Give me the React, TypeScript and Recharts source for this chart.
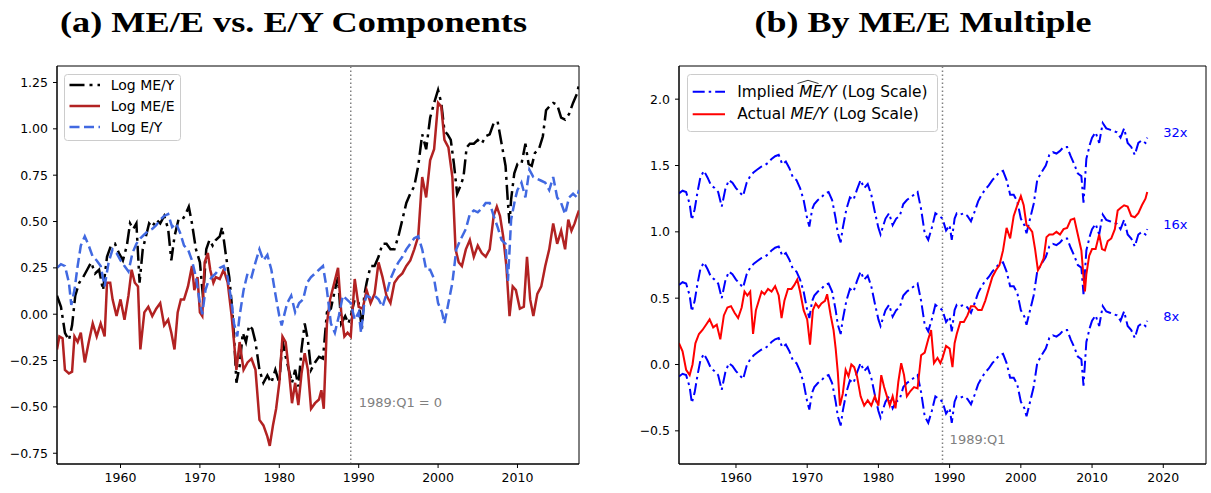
import { LineChart, Line, XAxis, YAxis, ReferenceLine, ReferenceArea, ReferenceDot } from 'recharts';

// Panel (a): quarterly-ish readings, normalised so 1989:Q1 = 0
const eyYears = [
  1952, 1952.5, 1953, 1953.5, 1953.8, 1954.2, 1954.6, 1955, 1955.5, 1956,
  1956.5, 1957, 1957.5, 1958, 1958.5, 1959, 1959.5, 1960, 1960.5, 1961,
  1961.5, 1962, 1962.5, 1963, 1963.5, 1964, 1964.5, 1965, 1965.5, 1966,
  1966.5, 1967, 1967.5, 1968, 1968.5, 1969, 1969.5, 1970, 1970.3, 1970.7,
  1971, 1971.5, 1972, 1972.5, 1973, 1973.5, 1974, 1974.3, 1974.7, 1975,
  1975.5, 1976, 1976.5, 1977, 1977.5, 1978, 1978.5, 1979, 1979.5, 1980,
  1980.3, 1980.7, 1981, 1981.5, 1982, 1982.5, 1983, 1983.5, 1984, 1984.5,
  1985, 1985.5, 1986, 1986.5, 1987, 1987.5, 1988, 1988.5, 1989, 1989.5,
  1990, 1990.3, 1990.7, 1991, 1991.5, 1992, 1992.5, 1993, 1993.5, 1994,
  1994.5, 1995, 1995.5, 1996, 1996.5, 1997, 1997.5, 1998, 1998.5, 1999,
  1999.5, 2000, 2000.5, 2000.8, 2001.3, 2001.8, 2002.3, 2002.8, 2003.5, 2004,
  2004.5, 2005, 2005.5, 2006, 2006.5, 2007, 2007.5, 2008, 2008.5, 2008.8,
  2009.2, 2009.7, 2010, 2010.5, 2011, 2011.5, 2012, 2012.5, 2013, 2013.5,
  2014, 2014.5, 2015, 2015.5, 2016, 2016.5, 2017, 2017.5, 2017.75,
];

const logEY = [
  0.25, 0.27, 0.26, 0.17, 0.05, 0.13, 0.26, 0.37, 0.42, 0.37,
  0.31, 0.29, 0.26, 0.15, 0.28, 0.35, 0.33, 0.29, 0.26, 0.23,
  0.33, 0.38, 0.41, 0.43, 0.45, 0.46, 0.48, 0.51, 0.53, 0.54,
  0.47, 0.49, 0.44, 0.37, 0.35, 0.29, 0.2, 0.06, 0.0, 0.13,
  0.17, 0.2, 0.22, 0.25, 0.26, 0.2, 0.06, -0.05, -0.12, -0.01,
  0.13, 0.22, 0.2, 0.28, 0.35, 0.29, 0.32, 0.24, 0.11, -0.01,
  -0.06, 0.01, 0.06, 0.1, 0.01, 0.06, 0.08, 0.17, 0.2, 0.22,
  0.24, 0.26, 0.13, -0.05, -0.1, -0.01, 0.1, 0.08, 0.06, -0.03,
  0.01, -0.1, 0.06, 0.1, 0.09, 0.1, 0.08, 0.04, 0.11, 0.19,
  0.24, 0.28, 0.31, 0.35, 0.38, 0.41, 0.42, 0.35, 0.24, 0.24,
  0.19, 0.06, 0.01, -0.05, 0.06, 0.17, 0.35, 0.4, 0.46, 0.54,
  0.56, 0.55, 0.57, 0.6, 0.6, 0.53, 0.47, 0.4, 0.38, 0.18,
  0.51, 0.62, 0.67, 0.71, 0.63, 0.78, 0.74, 0.73, 0.72, 0.71,
  0.67, 0.74, 0.63, 0.6, 0.54, 0.63, 0.65, 0.63, 0.67,
];

const meeYears = [
  1952, 1952.3, 1952.7, 1953, 1953.5, 1953.9, 1954.2, 1954.6, 1955, 1955.5,
  1956, 1956.5, 1957, 1957.5, 1958, 1958.3, 1958.7, 1959, 1959.5, 1960,
  1960.5, 1961, 1961.4, 1961.8, 1962.2, 1962.5, 1963, 1963.5, 1964, 1964.5,
  1965, 1965.5, 1966, 1966.4, 1966.8, 1967.2, 1967.6, 1968, 1968.5, 1969,
  1969.3, 1969.7, 1970, 1970.3, 1970.6, 1971, 1971.3, 1971.7, 1972, 1972.5,
  1973, 1973.5, 1974, 1974.3, 1974.6, 1975, 1975.5, 1976, 1976.5, 1977,
  1977.5, 1978, 1978.5, 1978.8, 1979.2, 1979.6, 1980, 1980.4, 1980.8, 1981.2,
  1981.6, 1982, 1982.4, 1982.8, 1983.2, 1983.6, 1984, 1984.5, 1985, 1985.3,
  1985.6, 1986, 1986.4, 1987.4, 1987.8, 1988.2, 1988.6, 1989, 1989.5, 1990,
  1990.5, 1991, 1991.5, 1992, 1992.5, 1993, 1993.5, 1994, 1994.5, 1995,
  1995.5, 1996, 1996.5, 1997, 1997.5, 1998, 1998.5, 1999, 1999.5, 2000,
  2000.4, 2000.8, 2001.3, 2001.8, 2002.2, 2002.6, 2003, 2003.5, 2004, 2004.5,
  2005, 2005.5, 2006, 2006.5, 2007, 2007.4, 2007.8, 2008.2, 2008.6, 2009,
  2009.4, 2009.8, 2010.3, 2010.8, 2011.2, 2011.6, 2012, 2012.5, 2013, 2013.5,
  2014, 2014.5, 2015, 2015.5, 2016, 2016.4, 2016.8, 2017.2, 2017.5, 2017.75,
];

const logMEE = [
  -0.19, -0.12, -0.13, -0.3, -0.32, -0.31, -0.12, -0.15, -0.1, -0.26,
  -0.15, -0.05, -0.12, -0.05, -0.12, 0.17, 0.17, 0.08, -0.01, 0.08,
  -0.03, 0.1, 0.24, 0.17, 0.15, -0.19, 0.01, 0.04, -0.01, 0.03,
  0.06, -0.06, -0.03, -0.1, -0.19, 0.01, 0.08, 0.08, 0.15, 0.26,
  0.13, 0.2, 0.01, -0.01, 0.28, 0.33, 0.24, 0.17, 0.2, 0.19,
  0.24, 0.17, -0.01, -0.15, -0.3, -0.15, -0.3, -0.26, -0.24, -0.3,
  -0.57, -0.6, -0.66, -0.71, -0.6, -0.51, -0.37, -0.12, -0.15, -0.3,
  -0.48, -0.37, -0.49, -0.32, -0.21, -0.3, -0.51, -0.48, -0.46, -0.41,
  -0.51, -0.05, 0.08, 0.25, 0.01, -0.12, -0.1, -0.12, 0.19, 0.04,
  0.03, 0.13, 0.06, 0.11, 0.28, 0.2, 0.1, 0.06, 0.17, 0.2,
  0.22, 0.26, 0.29, 0.35, 0.42, 0.74, 0.63, 0.83, 0.89, 1.14,
  1.12, 0.94, 0.9, 0.74, 0.35, 0.28, 0.26, 0.35, 0.4, 0.31,
  0.37, 0.33, 0.31, 0.35, 0.53, 0.58, 0.53, 0.42, 0.26, -0.01,
  0.15, 0.13, 0.03, 0.04, 0.31, 0.08, -0.01, 0.11, 0.15, 0.26,
  0.35, 0.49, 0.38, 0.45, 0.35, 0.51, 0.45, 0.49, 0.53, 0.56,
];

const meyYears = [
  1952, 1952.5, 1953, 1953.5, 1953.9, 1954.3, 1954.8, 1955.3, 1955.8, 1956.3,
  1956.8, 1957.3, 1957.8, 1958.3, 1958.8, 1959.3, 1959.8, 1960.3, 1960.8, 1961.2,
  1961.6, 1962, 1962.4, 1962.8, 1963.2, 1963.6, 1964, 1964.5, 1965, 1965.5,
  1966, 1966.4, 1966.8, 1967.3, 1967.8, 1968.2, 1968.6, 1969, 1969.5, 1970,
  1970.4, 1970.8, 1971.2, 1971.6, 1972, 1972.5, 1972.8, 1973.3, 1973.7, 1974,
  1974.3, 1974.6, 1975, 1975.4, 1975.8, 1976.2, 1976.6, 1977, 1977.5, 1978,
  1978.5, 1979, 1979.5, 1980, 1980.4, 1980.8, 1981.2, 1981.6, 1982, 1982.4,
  1982.8, 1983.2, 1983.6, 1984, 1984.5, 1985, 1985.5, 1986, 1986.5, 1987,
  1987.4, 1987.8, 1988.3, 1988.7, 1989, 1989.5, 1990, 1990.4, 1990.7, 1991,
  1991.5, 1992, 1992.5, 1993, 1993.5, 1994, 1994.5, 1995, 1995.5, 1996,
  1996.5, 1997, 1997.5, 1998, 1998.5, 1999, 1999.5, 2000, 2000.4, 2000.8,
  2001.2, 2001.6, 2002, 2002.4, 2002.8, 2003.2, 2003.6, 2004, 2004.5, 2005,
  2005.5, 2006, 2006.5, 2007, 2007.5, 2008, 2008.5, 2008.8, 2009, 2009.2,
  2009.6, 2010, 2010.5, 2011, 2011.4, 2011.8, 2012.2, 2012.7, 2013.2, 2013.6,
  2014, 2014.5, 2015, 2015.5, 2016, 2016.5, 2017, 2017.5, 2017.75,
];

const logMEY = [
  0.1, 0.04, -0.1, -0.14, -0.06, 0.1, 0.17, 0.2, 0.24, 0.28,
  0.22, 0.24, 0.13, 0.31, 0.37, 0.38, 0.33, 0.29, 0.37, 0.49,
  0.46, 0.49, 0.17, 0.35, 0.42, 0.49, 0.47, 0.51, 0.49, 0.53,
  0.46, 0.29, 0.42, 0.51, 0.51, 0.54, 0.58, 0.49, 0.35, 0.28,
  0.09, 0.35, 0.4, 0.37, 0.4, 0.42, 0.47, 0.31, 0.2, 0.06,
  -0.12, -0.37, -0.28, -0.1, -0.15, -0.06, -0.08, -0.15, -0.3, -0.37,
  -0.33, -0.37, -0.3, -0.37, -0.14, -0.23, -0.3, -0.37, -0.3, -0.39,
  -0.19, -0.05, -0.14, -0.3, -0.26, -0.23, -0.24, 0.01, 0.03, 0.13,
  0.2, -0.05, -0.01, -0.05, -0.01, 0.08, 0.06, -0.08, 0.1, 0.17,
  0.26, 0.26, 0.31, 0.38, 0.38, 0.35, 0.35, 0.42, 0.51, 0.6,
  0.65, 0.69, 0.8, 0.97, 0.89, 1.06, 1.14, 1.21, 1.14, 0.99,
  0.97, 0.94, 0.81, 0.65, 0.69, 0.74, 0.9, 0.92, 0.92, 0.94,
  0.92, 0.96, 0.97, 1.03, 1.04, 0.92, 0.8, 0.6, 0.49, 0.62,
  0.76, 0.81, 0.81, 0.92, 0.81, 0.8, 0.87, 0.89, 0.96, 1.1,
  1.12, 1.14, 1.13, 1.06, 1.05, 1.08, 1.14, 1.19, 1.24,
];

// Panel (b): implied ME/Y at fixed multiples (same dates as eyYears)
const implied32 = [
  1.29, 1.31, 1.3, 1.21, 1.09, 1.17, 1.3, 1.41, 1.46, 1.41,
  1.35, 1.33, 1.3, 1.19, 1.32, 1.39, 1.37, 1.33, 1.3, 1.27,
  1.37, 1.42, 1.45, 1.47, 1.49, 1.5, 1.52, 1.55, 1.57, 1.58,
  1.51, 1.53, 1.48, 1.41, 1.39, 1.33, 1.24, 1.1, 1.04, 1.17,
  1.21, 1.24, 1.26, 1.29, 1.3, 1.24, 1.1, 0.99, 0.92, 1.03,
  1.17, 1.26, 1.24, 1.32, 1.39, 1.33, 1.36, 1.28, 1.15, 1.03,
  0.98, 1.05, 1.1, 1.14, 1.05, 1.1, 1.12, 1.21, 1.24, 1.26,
  1.28, 1.3, 1.17, 0.99, 0.94, 1.03, 1.14, 1.12, 1.1, 1.01,
  1.05, 0.94, 1.1, 1.14, 1.13, 1.14, 1.12, 1.08, 1.15, 1.23,
  1.28, 1.32, 1.35, 1.39, 1.42, 1.45, 1.46, 1.39, 1.28, 1.28,
  1.23, 1.1, 1.05, 0.99, 1.1, 1.21, 1.39, 1.44, 1.5, 1.58,
  1.6, 1.59, 1.61, 1.64, 1.64, 1.57, 1.51, 1.44, 1.42, 1.22,
  1.55, 1.66, 1.71, 1.75, 1.67, 1.82, 1.78, 1.77, 1.76, 1.75,
  1.71, 1.78, 1.67, 1.64, 1.58, 1.67, 1.69, 1.67, 1.71,
];

const implied16 = [
  0.6, 0.62, 0.61, 0.52, 0.4, 0.48, 0.61, 0.72, 0.77, 0.72,
  0.66, 0.64, 0.61, 0.5, 0.63, 0.7, 0.68, 0.64, 0.61, 0.58,
  0.68, 0.73, 0.76, 0.78, 0.8, 0.81, 0.83, 0.86, 0.88, 0.89,
  0.82, 0.84, 0.79, 0.72, 0.7, 0.64, 0.55, 0.41, 0.35, 0.48,
  0.52, 0.55, 0.57, 0.6, 0.61, 0.55, 0.41, 0.3, 0.23, 0.34,
  0.48, 0.57, 0.55, 0.63, 0.7, 0.64, 0.67, 0.59, 0.46, 0.34,
  0.29, 0.36, 0.41, 0.45, 0.36, 0.41, 0.43, 0.52, 0.55, 0.57,
  0.59, 0.61, 0.48, 0.3, 0.25, 0.34, 0.45, 0.43, 0.41, 0.32,
  0.36, 0.25, 0.41, 0.45, 0.44, 0.45, 0.43, 0.39, 0.46, 0.54,
  0.59, 0.63, 0.66, 0.7, 0.73, 0.76, 0.77, 0.7, 0.59, 0.59,
  0.54, 0.41, 0.36, 0.3, 0.41, 0.52, 0.7, 0.75, 0.81, 0.89,
  0.91, 0.9, 0.92, 0.95, 0.95, 0.88, 0.82, 0.75, 0.73, 0.53,
  0.86, 0.97, 1.02, 1.06, 0.98, 1.13, 1.09, 1.08, 1.07, 1.06,
  1.02, 1.09, 0.98, 0.95, 0.89, 0.98, 1.0, 0.98, 1.02,
];

const implied8 = [
  -0.09, -0.07, -0.08, -0.17, -0.29, -0.21, -0.08, 0.03, 0.08, 0.03,
  -0.03, -0.05, -0.08, -0.19, -0.06, 0.01, -0.01, -0.05, -0.08, -0.11,
  -0.01, 0.04, 0.07, 0.09, 0.11, 0.12, 0.14, 0.17, 0.19, 0.2,
  0.13, 0.15, 0.1, 0.03, 0.01, -0.05, -0.14, -0.28, -0.34, -0.21,
  -0.17, -0.14, -0.12, -0.09, -0.08, -0.14, -0.28, -0.39, -0.46, -0.35,
  -0.21, -0.12, -0.14, -0.06, 0.01, -0.05, -0.02, -0.1, -0.23, -0.35,
  -0.4, -0.33, -0.28, -0.24, -0.33, -0.28, -0.26, -0.17, -0.14, -0.12,
  -0.1, -0.08, -0.21, -0.39, -0.44, -0.35, -0.24, -0.26, -0.28, -0.37,
  -0.33, -0.44, -0.28, -0.24, -0.25, -0.24, -0.26, -0.3, -0.23, -0.15,
  -0.1, -0.06, -0.03, 0.01, 0.04, 0.07, 0.08, 0.01, -0.1, -0.1,
  -0.15, -0.28, -0.33, -0.39, -0.28, -0.17, 0.01, 0.06, 0.12, 0.2,
  0.22, 0.21, 0.23, 0.26, 0.26, 0.19, 0.13, 0.06, 0.04, -0.16,
  0.17, 0.28, 0.33, 0.37, 0.29, 0.44, 0.4, 0.39, 0.38, 0.37,
  0.33, 0.4, 0.29, 0.26, 0.2, 0.29, 0.31, 0.29, 0.33,
];

// Actual ME/Y on the panel (b) scale (same dates as meyYears)
const actualMEY = [
  0.16, 0.1, -0.04, -0.08, 0.0, 0.16, 0.23, 0.26, 0.3, 0.34,
  0.28, 0.3, 0.19, 0.37, 0.43, 0.44, 0.39, 0.35, 0.43, 0.55,
  0.52, 0.55, 0.23, 0.41, 0.48, 0.55, 0.53, 0.57, 0.55, 0.59,
  0.52, 0.35, 0.48, 0.57, 0.57, 0.6, 0.64, 0.55, 0.41, 0.34,
  0.15, 0.41, 0.46, 0.43, 0.46, 0.48, 0.53, 0.37, 0.26, 0.12,
  -0.06, -0.31, -0.22, -0.04, -0.09, 0.0, -0.02, -0.09, -0.24, -0.31,
  -0.27, -0.31, -0.24, -0.31, -0.08, -0.17, -0.24, -0.31, -0.24, -0.33,
  -0.13, 0.01, -0.08, -0.24, -0.2, -0.17, -0.18, 0.07, 0.09, 0.19,
  0.26, 0.01, 0.05, 0.01, 0.05, 0.14, 0.12, -0.02, 0.16, 0.23,
  0.32, 0.32, 0.37, 0.44, 0.44, 0.41, 0.41, 0.48, 0.57, 0.66,
  0.71, 0.75, 0.86, 1.03, 0.95, 1.12, 1.2, 1.27, 1.2, 1.05,
  1.03, 1.0, 0.87, 0.71, 0.75, 0.8, 0.96, 0.98, 0.98, 1.0,
  0.98, 1.02, 1.03, 1.09, 1.1, 0.98, 0.86, 0.66, 0.55, 0.68,
  0.82, 0.87, 0.87, 0.98, 0.87, 0.86, 0.93, 0.95, 1.02, 1.16,
  1.18, 1.2, 1.19, 1.12, 1.11, 1.14, 1.2, 1.25, 1.3,
];

const leftYTicks = [-0.75, -0.5, -0.25, 0, 0.25, 0.5, 0.75, 1.0, 1.25];
const leftXTicks = [1960, 1970, 1980, 1990, 2000, 2010];
const rightYTicks = [-0.5, 0, 0.5, 1.0, 1.5, 2.0];
const rightXTicks = [1960, 1970, 1980, 1990, 2000, 2010, 2020];

const multipleLabels = [
  { text: '32x', y: 1.749 },
  { text: '16x', y: 1.057 },
  { text: '8x', y: 0.365 },
];

const toPoints = (xs: number[], ys: number[]) =>
  xs.slice(0, ys.length).map((x, i) => ({ x, y: ys[i] }));

const FONT = '"DejaVu Sans", sans-serif';
const DASHDOT_A = '15 5 3 5';
const DASHDOT_B = '12 4 2.5 4';

const fmt = (digits: number) => (v: number) =>
  v < 0 ? '\u2212' + Math.abs(v).toFixed(digits) : v.toFixed(digits);

const tickStyle = { fill: '#000', fontSize: 12.5, fontFamily: FONT };

function LeftPanel() {
  const xDomain: [number, number] = [1952, 2017.75];
  const yDomain: [number, number] = [-0.808, 1.339];
  return (
    <LineChart width={600} height={493} margin={{ top: 66, right: 21, bottom: 0, left: 0 }}>
      <XAxis
        type="number"
        dataKey="x"
        domain={xDomain}
        ticks={leftXTicks}
        allowDataOverflow
        height={29}
        tick={tickStyle}
        tickSize={4}
        tickMargin={5}
        stroke="#000"
      />
      <YAxis
        type="number"
        dataKey="y"
        domain={yDomain}
        ticks={leftYTicks}
        allowDataOverflow
        width={57}
        tick={tickStyle}
        tickSize={4}
        tickMargin={5}
        tickFormatter={fmt(2)}
        stroke="#000"
      />
      <ReferenceArea x1={xDomain[0]} x2={xDomain[1]} y1={yDomain[0]} y2={yDomain[1]} fill="none" stroke="#000" strokeWidth={1} />
      <ReferenceLine x={1989} stroke="#808080" strokeWidth={1.5} strokeDasharray="1.5 2.5" />
      <Line data={toPoints(meyYears, logMEY)} dataKey="y" stroke="#000" strokeWidth={2.5} strokeDasharray={DASHDOT_A} dot={false} isAnimationActive={false} />
      <Line data={toPoints(meeYears, logMEE)} dataKey="y" stroke="#b22222" strokeWidth={2.5} dot={false} isAnimationActive={false} />
      <Line data={toPoints(eyYears, logEY)} dataKey="y" stroke="#4169e1" strokeWidth={2.5} strokeDasharray="10 4.5" dot={false} isAnimationActive={false} />
      <ReferenceDot
        x={1990}
        y={-0.476}
        r={1}
        fill="none"
        stroke="none"
        label={{ value: '1989:Q1 = 0', position: 'right', offset: -1, fill: '#808080', fontSize: 13, fontFamily: FONT }}
      />
    </LineChart>
  );
}

function RightPanel() {
  const xDomain: [number, number] = [1952, 2026];
  const yDomain: [number, number] = [-0.75, 2.25];
  return (
    <LineChart width={611} height={493} margin={{ top: 66, right: 5, bottom: 0, left: 0 }}>
      <XAxis
        type="number"
        dataKey="x"
        domain={xDomain}
        ticks={rightXTicks}
        allowDataOverflow
        height={29}
        tick={tickStyle}
        tickSize={4}
        tickMargin={5}
        stroke="#000"
      />
      <YAxis
        type="number"
        dataKey="y"
        domain={yDomain}
        ticks={rightYTicks}
        allowDataOverflow
        width={79}
        tick={tickStyle}
        tickSize={4}
        tickMargin={5}
        tickFormatter={fmt(1)}
        stroke="#000"
      />
      <ReferenceArea x1={xDomain[0]} x2={xDomain[1]} y1={yDomain[0]} y2={yDomain[1]} fill="none" stroke="#000" strokeWidth={1} />
      <ReferenceLine x={1989} stroke="#808080" strokeWidth={1.5} strokeDasharray="1.5 2.5" />
      <Line data={toPoints(eyYears, implied32)} dataKey="y" stroke="#0000ff" strokeWidth={2} strokeDasharray={DASHDOT_B} dot={false} isAnimationActive={false} />
      <Line data={toPoints(eyYears, implied16)} dataKey="y" stroke="#0000ff" strokeWidth={2} strokeDasharray={DASHDOT_B} dot={false} isAnimationActive={false} />
      <Line data={toPoints(eyYears, implied8)} dataKey="y" stroke="#0000ff" strokeWidth={2} strokeDasharray={DASHDOT_B} dot={false} isAnimationActive={false} />
      <Line data={toPoints(meyYears, actualMEY)} dataKey="y" stroke="#ff0000" strokeWidth={2} dot={false} isAnimationActive={false} />
      {multipleLabels.map((m) => (
        <ReferenceDot
          key={m.text}
          x={2020}
          y={m.y}
          r={1}
          fill="none"
          stroke="none"
          label={{ value: m.text, position: 'right', offset: -1, fill: '#0000ff', fontSize: 13, fontFamily: FONT }}
        />
      ))}
      <ReferenceDot
        x={1990}
        y={-0.567}
        r={1}
        fill="none"
        stroke="none"
        label={{ value: '1989:Q1', position: 'right', offset: -1, fill: '#808080', fontSize: 13, fontFamily: FONT }}
      />
    </LineChart>
  );
}

// titles and legends drawn on top
function Overlay() {
  const titleFont = '"Liberation Serif", serif';
  return (
    <svg width={1211} height={493} style={{ position: 'absolute', left: 0, top: 0, pointerEvents: 'none' }}>
      <text x={293.5} y={31.5} textAnchor="middle" fontFamily={titleFont} fontWeight="bold" fontSize={28.5} textLength={467} lengthAdjust="spacingAndGlyphs">
        (a) ME/E vs. E/Y Components
      </text>
      <text x={923} y={31.5} textAnchor="middle" fontFamily={titleFont} fontWeight="bold" fontSize={28.5} textLength={337} lengthAdjust="spacingAndGlyphs">
        (b) By ME/E Multiple
      </text>

      {/* panel (a) legend */}
      <rect x={64.5} y={74.5} width={116} height={66} rx={3} fill="#fff" fillOpacity={0.8} stroke="#cccccc" />
      <line x1={69.5} x2={100} y1={85} y2={85} stroke="#000" strokeWidth={2.5} strokeDasharray={DASHDOT_A} />
      <line x1={69.5} x2={100} y1={106} y2={106} stroke="#b22222" strokeWidth={2.5} />
      <line x1={69.5} x2={100} y1={127} y2={127} stroke="#4169e1" strokeWidth={2.5} strokeDasharray="10 4.5" />
      <g fontFamily={FONT} fontSize={14} fill="#000">
        <text x={110.7} y={85} dominantBaseline="central">Log ME/Y</text>
        <text x={110.7} y={106} dominantBaseline="central">Log ME/E</text>
        <text x={110.7} y={127} dominantBaseline="central">Log E/Y</text>
      </g>

      {/* panel (b) legend */}
      <rect x={687.5} y={74.5} width={250} height={57} rx={3} fill="#fff" fillOpacity={0.8} stroke="#cccccc" />
      <line x1={692.7} x2={725} y1={91.7} y2={91.7} stroke="#0000ff" strokeWidth={2} strokeDasharray={DASHDOT_B} />
      <line x1={692.7} x2={725} y1={114.3} y2={114.3} stroke="#ff0000" strokeWidth={2} />
      <g fontFamily={FONT} fontSize={15.4} fill="#000">
        <text x={737.3} y={91.7} dominantBaseline="central">
          Implied <tspan fontStyle="italic">ME/Y</tspan> (Log Scale)
        </text>
        <text x={737.3} y={114.3} dominantBaseline="central">
          Actual <tspan fontStyle="italic">ME/Y</tspan> (Log Scale)
        </text>
      </g>
      <path d="M797.5 83.5 L808 80.3 L818.5 83.5" fill="none" stroke="#000" strokeWidth={0.8} />
    </svg>
  );
}

export default function App() {
  return (
    <div style={{ position: 'absolute', left: 0, top: 0, width: 1211, height: 493, background: '#fff', overflow: 'hidden' }}>
      <div style={{ position: 'absolute', left: 0, top: 0 }}>
        <LeftPanel />
      </div>
      <div style={{ position: 'absolute', left: 600, top: 0 }}>
        <RightPanel />
      </div>
      <Overlay />
    </div>
  );
}
